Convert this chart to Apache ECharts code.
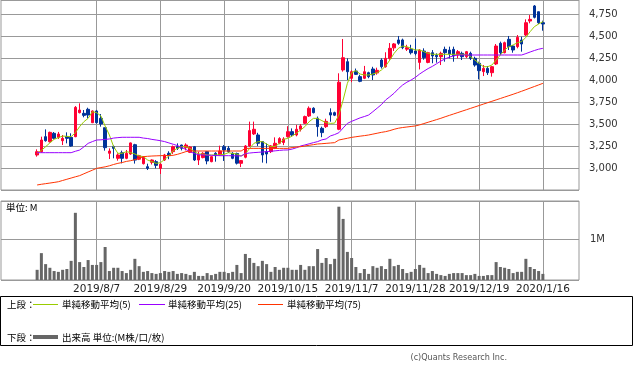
<!DOCTYPE html>
<html><head><meta charset="utf-8">
<script src="https://cdn.jsdelivr.net/npm/echarts@6/dist/echarts.min.js"></script>
<style>html,body{margin:0;padding:0;background:#fff}#c{width:633px;height:368px}</style>
</head><body><div id="c"></div>
<script>
// Trading dates (one per candle)
const dates = [
'2019/7/18','2019/7/19','2019/7/22','2019/7/23','2019/7/24','2019/7/25','2019/7/26','2019/7/29','2019/7/30','2019/7/31',
'2019/8/1','2019/8/2','2019/8/5','2019/8/6','2019/8/7','2019/8/8','2019/8/9','2019/8/13','2019/8/14','2019/8/15',
'2019/8/16','2019/8/19','2019/8/20','2019/8/21','2019/8/22','2019/8/23','2019/8/26','2019/8/27','2019/8/28','2019/8/29',
'2019/8/30','2019/9/2','2019/9/3','2019/9/4','2019/9/5','2019/9/6','2019/9/9','2019/9/10','2019/9/11','2019/9/12',
'2019/9/13','2019/9/17','2019/9/18','2019/9/19','2019/9/20','2019/9/24','2019/9/25','2019/9/26','2019/9/27','2019/9/30',
'2019/10/1','2019/10/2','2019/10/3','2019/10/4','2019/10/7','2019/10/8','2019/10/9','2019/10/10','2019/10/11','2019/10/15',
'2019/10/16','2019/10/17','2019/10/18','2019/10/21','2019/10/23','2019/10/24','2019/10/25','2019/10/28','2019/10/29','2019/10/30',
'2019/10/31','2019/11/1','2019/11/5','2019/11/6','2019/11/7','2019/11/8','2019/11/11','2019/11/12','2019/11/13','2019/11/14',
'2019/11/15','2019/11/18','2019/11/19','2019/11/20','2019/11/21','2019/11/22','2019/11/25','2019/11/26','2019/11/27','2019/11/28',
'2019/11/29','2019/12/2','2019/12/3','2019/12/4','2019/12/5','2019/12/6','2019/12/9','2019/12/10','2019/12/11','2019/12/12',
'2019/12/13','2019/12/16','2019/12/17','2019/12/18','2019/12/19','2019/12/20','2019/12/23','2019/12/24','2019/12/25','2019/12/26',
'2019/12/27','2019/12/30','2020/1/6','2020/1/7','2020/1/8','2020/1/9','2020/1/10','2020/1/14','2020/1/15','2020/1/16'];

const tickLabels = ['2019/8/7','2019/8/29','2019/9/20','2019/10/15','2019/11/7','2019/11/28','2019/12/19','2020/1/16'];

const opens = [
3148,3185,3356,3299,3394,3348,3310,3356,3348,3356, 3629,3621,3667,3515,3648,3564,3458,3167,3242,3110,
3174,3110,3159,3265,3100,3049,3015,3064,3072,2996, 3091,3167,3186,3242,3261,3231,3178,3242,3091,3118,
3186,3072,3167,3148,3242,3224,3167,3165,3053,3122, 3250,3387,3375,3300,3186,3186,3224,3281,3290,3356,
3413,3375,3440,3508,3591,3679,3565,3451,3470,3629, 3629,3440,4114,4208,4019,4102,4038,4019,4083,4125,
4080,4227,4151,4246,4365,4455,4455,4350,4350,4330, 4200,4329,4200,4310,4280,4265,4348,4340,4348,4284,
4303,4265,4303,4246,4189,4095,4132,4083,4182,4417, 4310,4462,4386,4379,4455,4511,4670,4841,4776,4651];
const closes = [
3185,3318,3310,3405,3337,3386,3337,3337,3250,3689, 3659,3598,3602,3648,3515,3500,3231,3193,3223,3148,
3110,3167,3285,3090,3140,3129,2996,3091,3030,3042, 3148,3140,3242,3224,3224,3261,3239,3091,3148,3167,
3080,3129,3140,3193,3205,3186,3110,3055,3084,3250, 3425,3440,3281,3148,3159,3250,3281,3334,3330,3413,
3375,3440,3478,3584,3679,3629,3470,3402,3530,3602, 3600,3975,4253,4094,4094,4064,3985,4094,4038,4057,
4110,4151,4246,4360,4410,4417,4367,4367,4310,4300, 4340,4253,4310,4273,4265,4303,4310,4295,4273,4322,
4265,4322,4246,4170,4106,4132,4083,4151,4386,4310, 4424,4379,4341,4485,4409,4651,4689,4712,4651,4636];
const lows = [
3129,3174,3299,3288,3326,3330,3261,3280,3242,3350, 3620,3576,3564,3510,3505,3470,3197,3102,3110,3083,
3053,3100,3150,3050,3090,3040,2977,3040,2996,2932, 3080,3100,3160,3205,3200,3200,3170,3080,3034,3110,
3042,3065,3072,3140,3080,3170,3100,3040,3010,3110, 3240,3375,3250,3061,3053,3170,3215,3270,3260,3345,
3355,3360,3415,3500,3580,3620,3356,3350,3455,3526, 3590,3430,4095,4000,3975,4057,3975,4010,4020,4000,
4060,4130,4140,4230,4330,4400,4350,4330,4290,4280, 4120,4230,4190,4190,4197,4170,4208,4246,4208,4246,
4227,4250,4227,4151,4007,4045,4057,4038,4170,4284, 4303,4341,4310,4360,4322,4500,4644,4700,4636,4560];
const highs = [
3212,3356,3439,3413,3409,3410,3375,3405,3394,3704, 3735,3659,3685,3655,3660,3613,3458,3223,3257,3167,
3197,3205,3290,3275,3150,3135,3049,3098,3090,3055, 3160,3190,3255,3280,3265,3280,3250,3250,3186,3180,
3190,3135,3180,3254,3261,3250,3180,3175,3090,3260, 3527,3527,3400,3305,3280,3260,3348,3350,3350,3475,
3450,3490,3500,3595,3700,3690,3585,3470,3560,3678, 3640,4076,4466,4246,4110,4130,4060,4160,4094,4150,
4140,4246,4315,4420,4420,4500,4470,4400,4400,4470, 4350,4360,4320,4340,4303,4322,4379,4379,4379,4341,
4322,4330,4322,4265,4208,4170,4159,4159,4409,4436, 4436,4500,4398,4511,4492,4689,4738,4852,4776,4674];

// Moving averages
const ma5 = [
3167,3200,3242,3285,3326,3345,3363,3360,3356,3401, 3470,3526,3564,3640,3629,3591,3477,3375,3242,3167,
3167,3186,3175,3159,3136,3130,3091,3072,3053,3060, 3098,3136,3197,3223,3242,3242,3223,3186,3159,3159,
3148,3148,3148,3150,3155,3174,3165,3159,3136,3160, 3223,3280,3299,3299,3273,3242,3245,3280,3326,3337,
3363,3394,3432,3470,3526,3564,3564,3538,3515,3507, 3510,3602,3773,3962,4083,4106,4068,4057,4057,4068,
4083,4113,4159,4227,4303,4360,4386,4379,4360,4341, 4341,4322,4303,4292,4292,4292,4292,4292,4292,4292,
4292,4292,4265,4227,4189,4151,4151,4170,4227,4284, 4341,4379,4398,4424,4436,4485,4549,4606,4636,4663];
const ma25 = [
3174,3174,3174,3174,3174,3174,3174,3174,3174,3190, 3204,3240,3280,3300,3318,3320,3325,3330,3340,3345,
3349,3349,3349,3349,3349,3340,3335,3325,3318,3310, 3300,3285,3270,3255,3235,3210,3185,3165,3150,3148,
3146,3144,3142,3140,3140,3140,3139,3138,3136,3165, 3170,3175,3178,3182,3186,3190,3195,3200,3204,3205,
3215,3230,3250,3262,3275,3288,3300,3320,3330,3364, 3380,3401,3455,3507,3530,3550,3570,3585,3602,3640,
3680,3720,3773,3810,3850,3900,3943,3975,4000,4030, 4068,4100,4130,4155,4185,4215,4240,4260,4275,4284,
4284,4284,4284,4284,4284,4284,4284,4284,4284,4284, 4284,4284,4284,4284,4284,4300,4318,4335,4350,4360];
const ma75 = [
2807,2815,2822,2829,2836,2844,2858,2872,2886,2900, 2913,2934,2955,2975,2996,3005,3013,3025,3040,3053,
3062,3075,3083,3095,3110,3129,3133,3136,3138,3140, 3141,3142,3144,3155,3170,3186,3193,3193,3193,3193,
3193,3193,3193,3193,3193,3193,3193,3193,3193,3223, 3223,3223,3223,3223,3223,3223,3223,3223,3223,3223,
3232,3238,3242,3250,3258,3265,3273,3276,3280,3284, 3288,3318,3328,3338,3348,3355,3362,3368,3375,3385,
3395,3405,3413,3425,3440,3452,3460,3466,3472,3478, 3490,3505,3520,3535,3550,3565,3582,3598,3614,3630,
3646,3662,3678,3694,3710,3726,3742,3758,3774,3790, 3806,3822,3838,3855,3872,3890,3908,3926,3944,3962];

// Volume in millions
const volumes = [
0.25,0.66,0.39,0.30,0.22,0.20,0.25,0.27,0.47,1.65, 0.44,0.32,0.49,0.37,0.37,0.44,0.81,0.22,0.30,0.30,
0.22,0.17,0.25,0.52,0.34,0.20,0.22,0.17,0.15,0.17, 0.22,0.20,0.22,0.15,0.17,0.15,0.12,0.20,0.10,0.10,
0.17,0.12,0.15,0.20,0.20,0.17,0.20,0.37,0.17,0.64, 0.54,0.42,0.34,0.47,0.39,0.20,0.32,0.25,0.30,0.30,
0.25,0.25,0.37,0.25,0.34,0.34,0.76,0.42,0.54,0.39, 0.52,1.80,1.50,0.69,0.54,0.32,0.17,0.27,0.15,0.34,
0.30,0.34,0.27,0.52,0.34,0.37,0.27,0.17,0.20,0.27, 0.37,0.30,0.17,0.22,0.15,0.12,0.10,0.15,0.17,0.17,
0.17,0.12,0.12,0.15,0.10,0.10,0.12,0.12,0.44,0.32, 0.30,0.27,0.17,0.20,0.20,0.52,0.32,0.27,0.22,0.15];

const PAD = 8;
const padL = Array.from({length: PAD}, (_, i) => 'L' + i);
const padR = Array.from({length: PAD}, (_, i) => 'R' + i);
const cats = padL.concat(dates, padR);

const candleData = dates.map((d, i) => [i + PAD, opens[i], closes[i], lows[i], highs[i]]);
const lineData = arr => arr.map((v, i) => [i + PAD, v]);
const volData = volumes.map((v, i) => [i + PAD, v]);

const GRID = '#999999';
const NUMFONT = 'DejaVu Sans';
const JPFONT = '"Noto Sans CJK JP", "Noto Sans", sans-serif';

const fmt = v => String(v).replace(/\B(?=(\d{3})+(?!\d))/g, ',');

const chart = echarts.init(document.getElementById('c'), null, {renderer: 'canvas'});
const hiddenCat = (gi) => ({
  type: 'category', gridIndex: gi, data: cats, boundaryGap: true,
  axisLine: {show: false}, axisTick: {show: false}, axisLabel: {show: false}, splitLine: {show: false}
});
const overlayX = (gi, showLabels) => ({
  type: 'value', gridIndex: gi, min: 0, max: tickLabels.length - 1, interval: 1,
  axisLine: {show: false}, axisTick: {show: false},
  axisLabel: showLabels ? {
    show: true, margin: 4, color: '#222', fontFamily: NUMFONT, fontSize: 10.5,
    showMinLabel: true, showMaxLabel: true,
    formatter: v => tickLabels[Math.round(v)] || ''
  } : {show: false},
  splitLine: {show: true, lineStyle: {color: GRID, width: 1}}
});

chart.setOption({
  animation: false,
  textStyle: {fontFamily: NUMFONT},
  grid: [
    {left: 1, right: 54, top: 0, height: 190, show: true, borderColor: GRID, borderWidth: 1, outerBoundsMode: 'none'},
    {left: 1, right: 54, top: 201, height: 79, show: true, borderColor: GRID, borderWidth: 1, outerBoundsMode: 'none'},
    {left: 96.6, right: 90.1, top: 0, height: 190, outerBoundsMode: 'none'},
    {left: 96.6, right: 90.1, top: 201, height: 79, outerBoundsMode: 'none'}
  ],
  xAxis: [hiddenCat(0), hiddenCat(1), overlayX(2, false), overlayX(3, true)],
  yAxis: [
    {type: 'value', gridIndex: 0, position: 'right', min: 2750, max: 4909, interval: 250,
     axisLine: {show: false}, axisTick: {show: false},
     axisLabel: {margin: 10, color: '#333', fontFamily: NUMFONT, fontSize: 10,
       formatter: v => (v % 250 === 0 && v > 2750) ? fmt(v) : ''},
     splitLine: {show: true, lineStyle: {color: GRID, width: 1}}},
    {type: 'value', gridIndex: 1, position: 'right', min: 0, max: 1.94, interval: 1,
     axisLine: {show: false}, axisTick: {show: false},
     axisLabel: {margin: 11, color: '#333', fontFamily: NUMFONT, fontSize: 10,
       formatter: v => v === 1 ? '1M' : ''},
     splitLine: {show: true, lineStyle: {color: GRID, width: 1}}},
    {type: 'value', gridIndex: 2, min: 0, max: 1, show: false},
    {type: 'value', gridIndex: 3, min: 0, max: 1, show: false}
  ],
  series: [
    {type: 'candlestick', name: 'price', xAxisIndex: 0, yAxisIndex: 0, data: candleData,
     encode: {x: 0, y: [1, 2, 3, 4]}, barWidth: 3,
     itemStyle: {color: '#ff0033', color0: '#003399', borderColor: '#ff0033', borderColor0: '#003399', borderWidth: 1}},
    {type: 'line', name: '単純移動平均(5)', xAxisIndex: 0, yAxisIndex: 0, data: lineData(ma5),
     showSymbol: false, lineStyle: {color: '#99cc00', width: 1}, z: 3},
    {type: 'line', name: '単純移動平均(25)', xAxisIndex: 0, yAxisIndex: 0, data: lineData(ma25),
     showSymbol: false, lineStyle: {color: '#9900ff', width: 1}, z: 3},
    {type: 'line', name: '単純移動平均(75)', xAxisIndex: 0, yAxisIndex: 0, data: lineData(ma75),
     showSymbol: false, lineStyle: {color: '#ff3300', width: 1}, z: 3},
    {type: 'bar', name: '出来高', xAxisIndex: 1, yAxisIndex: 1, data: volData, barWidth: 3,
     itemStyle: {color: '#666666'}}
  ],
  graphic: [
    {type: 'text', left: 6, top: 203, style: {text: '単位: M', font: '9.5px ' + JPFONT, fill: '#000'}},
    {type: 'rect', shape: {x: 0.5, y: 296.5, width: 632, height: 49}, style: {fill: 'none', stroke: '#000', lineWidth: 1}},
    {type: 'text', x: 7, y: 304, style: {text: '上段：', font: '9.5px ' + JPFONT, fill: '#000', verticalAlign: 'middle'}},
    {type: 'line', shape: {x1: 33, y1: 304.5, x2: 58, y2: 304.5}, style: {stroke: '#99cc00', lineWidth: 1}},
    {type: 'text', x: 62, y: 304, style: {text: '単純移動平均(5)', font: '9.5px ' + JPFONT, fill: '#000', verticalAlign: 'middle'}},
    {type: 'line', shape: {x1: 139, y1: 304.5, x2: 165, y2: 304.5}, style: {stroke: '#9900ff', lineWidth: 1}},
    {type: 'text', x: 168, y: 304, style: {text: '単純移動平均(25)', font: '9.5px ' + JPFONT, fill: '#000', verticalAlign: 'middle'}},
    {type: 'line', shape: {x1: 258, y1: 304.5, x2: 283, y2: 304.5}, style: {stroke: '#ff3300', lineWidth: 1}},
    {type: 'text', x: 287, y: 304, style: {text: '単純移動平均(75)', font: '9.5px ' + JPFONT, fill: '#000', verticalAlign: 'middle'}},
    {type: 'text', x: 7, y: 337, style: {text: '下段：', font: '9.5px ' + JPFONT, fill: '#000', verticalAlign: 'middle'}},
    {type: 'line', shape: {x1: 33, y1: 337, x2: 58, y2: 337}, style: {stroke: '#666666', lineWidth: 4}},
    {type: 'text', x: 62, y: 337, style: {text: '出来高 単位:(M株/口/枚)', font: '9.5px ' + JPFONT, fill: '#000', verticalAlign: 'middle'}},
    {type: 'text', x: 507, y: 358, style: {text: '(c)Quants Research Inc.', font: '9px "Liberation Sans Narrow", "DejaVu Sans Condensed", sans-serif', fill: '#555', align: 'right', verticalAlign: 'middle'}}
  ]
});
</script>
</body></html>
